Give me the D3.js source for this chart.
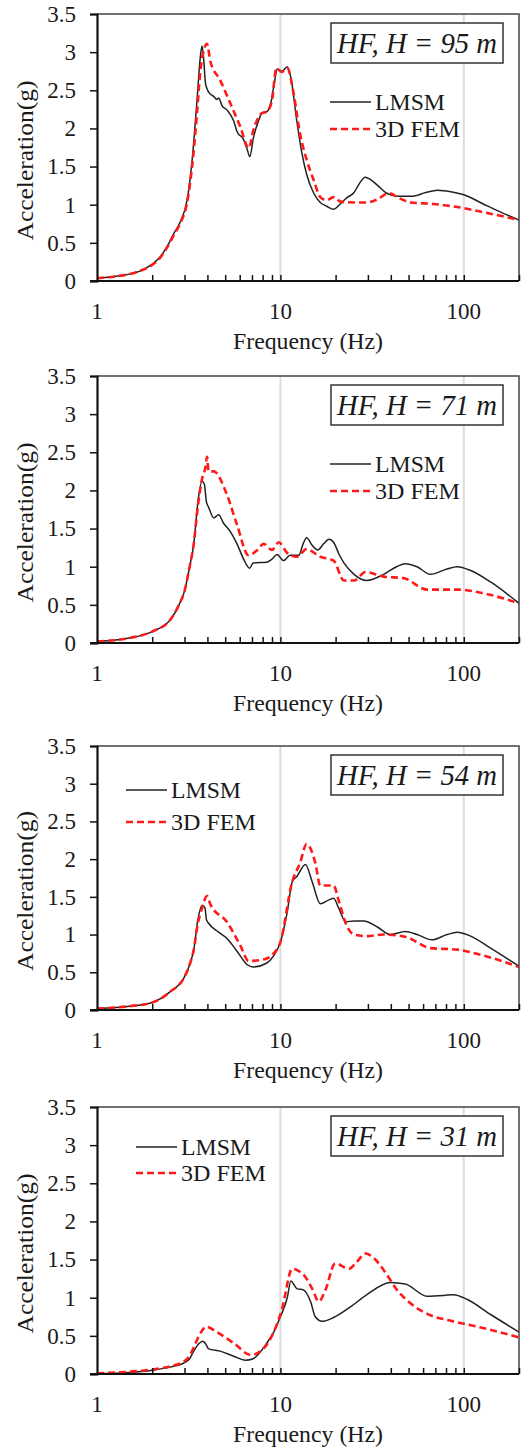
<!DOCTYPE html>
<html>
<head>
<meta charset="utf-8">
<script src="https://cdn.jsdelivr.net/npm/d3@7"></script>
<style>
  body { margin: 0; background: #fff; }
  svg { display: block; }
</style>
</head>
<body>
<div id="chart"></div>
<script>
// panel titles and legend labels
const panelTitles = ["HF, H = 95 m", "HF, H = 71 m", "HF, H = 54 m", "HF, H = 31 m"];
const seriesNames = ["LMSM", "3D FEM"];
const yTicks = [0, 0.5, 1, 1.5, 2, 2.5, 3, 3.5];
const xLabels = [1, 10, 100];

// [frequency Hz, acceleration g]
const lmsm95 = [[1,0.035],[1.25,0.06],[1.5,0.09],[1.75,0.14],[2,0.22],[2.2,0.31],[2.41,0.45],[2.62,0.62],[2.85,0.78],[3.1,1.06],[3.3,1.58],[3.51,2.37],[3.66,2.94],[3.74,3.08],[3.82,2.9],[3.9,2.6],[3.98,2.52],[4.15,2.45],[4.33,2.42],[4.5,2.38],[4.61,2.4],[4.8,2.3],[5.12,2.24],[5.56,2.1],[5.8,1.96],[6.31,1.85],[6.6,1.72],[6.81,1.63],[7.13,1.88],[7.6,2.1],[7.93,2.2],[8.45,2.22],[8.9,2.35],[9.3,2.62],[9.6,2.78],[10.2,2.75],[10.9,2.81],[11.5,2.62],[12.2,2.15],[13,1.72],[13.9,1.4],[15.2,1.15],[16.5,1.03],[17.9,0.98],[19.5,0.94],[21,1.0],[23,1.09],[25.2,1.16],[27,1.28],[29,1.36],[31,1.33],[34,1.25],[38,1.15],[44,1.11],[52,1.11],[62,1.16],[72,1.19],[85,1.17],[100,1.13],[130,1.0],[160,0.9],[200,0.8]];
const fem95 = [[1,0.035],[1.25,0.06],[1.5,0.09],[1.75,0.14],[2,0.21],[2.2,0.3],[2.41,0.44],[2.62,0.6],[2.85,0.76],[3.1,1.03],[3.3,1.5],[3.51,2.2],[3.66,2.75],[3.8,3.0],[3.98,3.11],[4.15,2.88],[4.7,2.63],[5.33,2.33],[6.05,2.02],[6.72,1.74],[7.13,1.98],[7.93,2.2],[8.45,2.22],[9.0,2.37],[9.5,2.79],[10.2,2.74],[10.9,2.79],[11.8,2.46],[12.8,1.93],[13.9,1.59],[15.2,1.32],[16.5,1.1],[17.9,1.06],[19.5,1.1],[21.3,1.04],[25.2,1.03],[29.6,1.03],[33.8,1.07],[38.9,1.15],[45,1.08],[51,1.03],[68,1.01],[92,0.97],[129,0.9],[200,0.8]];

const lmsm71 = [[1,0.02],[1.5,0.065],[2,0.15],[2.5,0.3],[2.8,0.5],[3.0,0.68],[3.2,1.0],[3.37,1.3],[3.55,1.85],[3.74,2.12],[3.85,2.08],[3.95,1.85],[4.06,1.78],[4.33,1.64],[4.6,1.68],[4.9,1.57],[5.3,1.47],[5.8,1.3],[6.3,1.1],[6.8,0.98],[7.1,1.05],[8.4,1.06],[9.0,1.1],[9.6,1.16],[10.4,1.08],[11.3,1.15],[12.6,1.15],[13.3,1.3],[13.9,1.38],[14.9,1.28],[16.0,1.22],[17.2,1.3],[18.4,1.36],[19.5,1.32],[21,1.15],[22.2,1.05],[25.2,0.9],[29.6,0.82],[36.6,0.9],[43,1.0],[48,1.04],[55.6,1.0],[65.8,0.9],[81,0.97],[92,1.0],[109,0.95],[140,0.8],[200,0.52]];
const fem71 = [[1,0.02],[1.5,0.065],[2,0.15],[2.5,0.3],[2.8,0.5],[3.0,0.68],[3.2,1.0],[3.37,1.3],[3.55,1.8],[3.74,2.15],[3.9,2.3],[3.98,2.44],[4.06,2.25],[4.33,2.25],[5.1,1.95],[5.8,1.55],[6.7,1.15],[7.5,1.22],[8.1,1.3],[9.0,1.22],[9.8,1.32],[10.9,1.18],[12.3,1.13],[13.9,1.23],[16.5,1.13],[19.5,1.08],[22.2,0.82],[25.2,0.82],[29.1,0.93],[36.6,0.87],[47,0.85],[63,0.7],[92,0.7],[129,0.65],[200,0.52]];

const lmsm54 = [[1,0.02],[1.5,0.05],[2,0.1],[2.5,0.24],[3,0.44],[3.2,0.6],[3.37,0.8],[3.55,1.2],[3.74,1.39],[3.88,1.35],[3.95,1.2],[4.06,1.15],[4.5,1.05],[5.1,0.95],[5.8,0.78],[6.6,0.6],[7.1,0.57],[8.4,0.62],[9.2,0.72],[10,0.9],[10.9,1.3],[11.6,1.7],[12.3,1.77],[13.7,1.93],[14.9,1.7],[16.5,1.41],[18.4,1.46],[19.5,1.48],[20.8,1.35],[22.7,1.17],[25.2,1.18],[28.5,1.18],[33.8,1.1],[39.8,1.0],[48,1.04],[55.6,1.0],[67,0.93],[81,1.0],[92,1.03],[109,0.98],[140,0.82],[200,0.58]];
const fem54 = [[1,0.02],[1.5,0.05],[2,0.1],[2.5,0.24],[3,0.44],[3.2,0.6],[3.37,0.8],[3.55,1.15],[3.74,1.35],[3.98,1.51],[4.15,1.4],[5.1,1.17],[6.06,0.85],[6.7,0.65],[8.1,0.67],[9.2,0.75],[10,0.9],[11.6,1.7],[12.8,1.95],[13.9,2.2],[15.5,1.95],[16.5,1.65],[19.5,1.65],[20.8,1.45],[22.7,1.15],[25.2,1.0],[29.6,0.98],[36.6,1.0],[48,0.97],[65.8,0.82],[92,0.8],[129,0.72],[200,0.57]];

const lmsm31 = [[1,0.005],[1.5,0.02],[2,0.05],[2.5,0.09],[3,0.15],[3.2,0.2],[3.37,0.3],[3.6,0.4],[3.77,0.43],[3.9,0.4],[4.06,0.33],[4.7,0.3],[5.6,0.23],[6.45,0.18],[7.1,0.2],[8.4,0.4],[9.2,0.55],[10,0.75],[10.9,1.0],[11.4,1.22],[12.3,1.12],[13.4,1.1],[14.6,0.95],[15.5,0.75],[16.9,0.69],[19.5,0.74],[24.1,0.88],[29.6,1.04],[39.8,1.2],[48,1.18],[63,1.02],[78,1.03],[88,1.04],[104,0.98],[140,0.78],[200,0.55]];
const fem31 = [[1,0.01],[1.5,0.03],[2,0.06],[2.5,0.1],[3,0.17],[3.2,0.24],[3.37,0.35],[3.6,0.5],[3.95,0.62],[4.5,0.55],[5.6,0.4],[6.9,0.25],[7.8,0.3],[9.2,0.55],[10.2,0.85],[11.6,1.38],[12.6,1.35],[13.4,1.3],[14.9,1.12],[16.2,0.95],[17.6,1.1],[19.9,1.45],[23.7,1.38],[26.1,1.47],[29.1,1.58],[32.3,1.52],[38.1,1.3],[43.3,1.1],[51,0.93],[65.8,0.77],[84,0.7],[129,0.6],[200,0.48]];

const panelTops = [14, 376, 746, 1107];
const panelBottoms = [281, 643, 1010, 1374];
const legendAtLeft = [false, false, true, true];

const panels = [
  { lmsm: lmsm95, fem: fem95 },
  { lmsm: lmsm71, fem: fem71 },
  { lmsm: lmsm54, fem: fem54 },
  { lmsm: lmsm31, fem: fem31 }
];

const W = 526, H = 1450;
const left = 97, right = 519;
const serif = '"Liberation Serif", serif';

const svg = d3.select("#chart").append("svg")
  .attr("width", W).attr("height", H);

const x = d3.scaleLog().domain([1, 200]).range([left, right]);

panels.forEach((p, i) => {
  const top = panelTops[i], bottom = panelBottoms[i];
  const y = d3.scaleLinear().domain([0, 3.5]).range([bottom, top]);
  const g = svg.append("g");

  g.append("clipPath").attr("id", "clip" + i)
    .append("rect").attr("x", left).attr("y", top).attr("width", right - left).attr("height", bottom - top);

  // light vertical gridlines at the decades
  g.selectAll(".grid").data([10, 100]).enter().append("line")
    .attr("x1", d => x(d)).attr("x2", d => x(d))
    .attr("y1", top).attr("y2", bottom)
    .attr("stroke", "#dcdcdc").attr("stroke-width", 2);

  const line = d3.line()
    .x(d => x(d[0]))
    .y(d => y(d[1]))
    .curve(d3.curveMonotoneX);

  const curves = g.append("g").attr("clip-path", "url(#clip" + i + ")");
  curves.append("path").attr("d", line(p.lmsm))
    .attr("fill", "none").attr("stroke", "#222").attr("stroke-width", 1.5);
  curves.append("path").attr("d", line(p.fem))
    .attr("fill", "none").attr("stroke", "#ff1a1a").attr("stroke-width", 2.6)
    .attr("stroke-dasharray", "7,4");

  // frame: top and right
  g.append("path")
    .attr("d", `M${left},${top}H${right}V${bottom}`)
    .attr("fill", "none").attr("stroke", "#444").attr("stroke-width", 1.5);

  // y axis
  const yAxis = d3.axisLeft(y).tickValues(yTicks).tickSize(7).tickPadding(14)
    .tickFormat(d => d);
  const ya = g.append("g").attr("transform", `translate(${left},0)`).call(yAxis);
  ya.select(".domain").attr("stroke", "#111").attr("stroke-width", 2.2);
  ya.selectAll(".tick line").attr("stroke", "#111").attr("stroke-width", 1.5);
  ya.selectAll(".tick text").attr("font-size", 23).attr("fill", "#1a1a1a")
    .style("font-family", serif);

  // x axis: minor ticks pointing inwards, labels only at decades
  const minor = [];
  [1, 10, 100].forEach(dec => {
    for (let k = 2; k <= 10; k++) {
      const v = dec * k;
      if (v <= 200) minor.push(v);
    }
  });
  const xAxis = d3.axisBottom(x).tickValues(minor).tickSize(-6).tickFormat("");
  const xa = g.append("g").attr("transform", `translate(0,${bottom})`).call(xAxis);
  xa.select(".domain").remove();
  xa.selectAll(".tick line").attr("stroke", "#111").attr("stroke-width", 1.5);
  g.append("line")
    .attr("x1", left - 7).attr("x2", right)
    .attr("y1", bottom).attr("y2", bottom)
    .attr("stroke", "#111").attr("stroke-width", 2.2);

  g.selectAll(".xlab").data(xLabels).enter().append("text")
    .attr("x", d => x(d)).attr("y", bottom + 38)
    .attr("text-anchor", "middle").attr("font-size", 23).attr("fill", "#1a1a1a")
    .style("font-family", serif)
    .text(d => d);

  // axis titles
  g.append("text")
    .attr("x", (left + right) / 2).attr("y", bottom + 68)
    .attr("text-anchor", "middle").attr("font-size", 23).attr("fill", "#1a1a1a")
    .style("font-family", serif)
    .attr("textLength", 150).attr("lengthAdjust", "spacingAndGlyphs")
    .text("Frequency (Hz)");
  g.append("text")
    .attr("transform", `translate(33,${(top + bottom) / 2 + 13}) rotate(-90)`)
    .attr("text-anchor", "middle").attr("font-size", 23).attr("fill", "#1a1a1a")
    .style("font-family", serif)
    .attr("textLength", 160).attr("lengthAdjust", "spacingAndGlyphs")
    .text("Acceleration(g)");

  // title box
  const bx = 331, by = top + 9, bw = 172, bh = 40;
  g.append("rect").attr("x", bx).attr("y", by).attr("width", bw).attr("height", bh)
    .attr("fill", "#fff").attr("stroke", "#333").attr("stroke-width", 1.5);
  g.append("text")
    .attr("x", bx + bw / 2).attr("y", by + 30)
    .attr("text-anchor", "middle").attr("font-size", 30).attr("font-style", "italic")
    .attr("fill", "#1a1a1a")
    .style("font-family", serif)
    .attr("textLength", 160).attr("lengthAdjust", "spacingAndGlyphs")
    .text(panelTitles[i]);

  // legend
  const lx = legendAtLeft[i] ? (i === 2 ? 126 : 136) : 330;
  const ly = legendAtLeft[i] ? (i === 2 ? top + 44 : top + 40) : top + 88;
  const gap = legendAtLeft[i] ? (i === 2 ? 32 : 26) : 27;
  const lg = g.append("g");
  seriesNames.forEach((name, k) => {
    const yy = ly + k * gap;
    lg.append("line").attr("x1", lx).attr("x2", lx + 41).attr("y1", yy).attr("y2", yy)
      .attr("stroke", k === 0 ? "#222" : "#ff1a1a")
      .attr("stroke-width", k === 0 ? 1.5 : 2.6)
      .attr("stroke-dasharray", k === 0 ? null : "7,4");
    lg.append("text").attr("x", lx + 45).attr("y", yy + 8)
      .attr("font-size", 23).attr("fill", "#1a1a1a")
      .style("font-family", serif)
      .attr("textLength", k === 0 ? 70 : 85).attr("lengthAdjust", "spacingAndGlyphs")
      .text(name);
  });
});
</script>
</body>
</html>
